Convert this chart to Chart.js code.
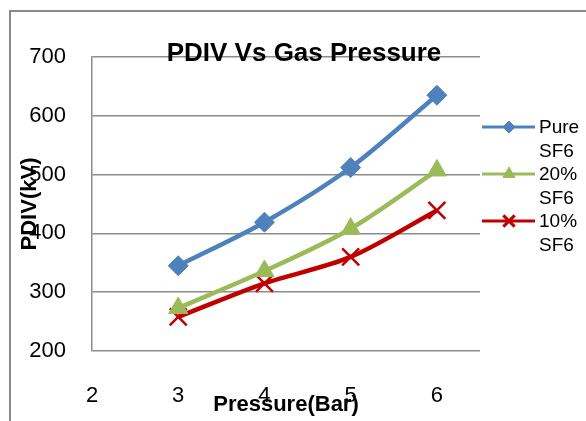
<!DOCTYPE html>
<html lang="en">
<head>
<meta charset="utf-8">
<title>PDIV Vs Gas Pressure</title>
<script src="https://cdn.jsdelivr.net/npm/chart.js@4/dist/chart.umd.min.js"></script>
<style>
  html, body { margin: 0; padding: 0; background: #fff; }
  #holder { width: 586px; height: 421px; }
</style>
</head>
<body>
<div id="holder"><canvas id="chart"></canvas></div>
<script>
// pressure in bar
const pressure = [3, 4, 5, 6];
const pureSF6 = [345, 419, 512, 635];
const sf6_20 = [273, 336, 408, 507];
const sf6_10 = [258, 315, 360, 439];
const seriesNames = [['Pure', 'SF6'], ['20%', 'SF6'], ['10%', 'SF6']];
const yTicks = [200, 300, 400, 500, 600, 700];
const xTicks = [2, 3, 4, 5, 6];

const gridGray = '#8c8c8c';
const FONT = "'Liberation Sans', Arial, sans-serif";

function pts(ys) {
  return pressure.map((x, i) => ({ x: x, y: ys[i] }));
}

// frame round the whole chart (left and top edges are the visible ones)
const frame = {
  id: 'frame',
  beforeDraw(chart) {
    const ctx = chart.ctx;
    ctx.save();
    ctx.strokeStyle = '#8a8a8a';
    ctx.lineWidth = 2;
    ctx.strokeRect(10, 11, chart.width + 40, chart.height + 40);
    ctx.restore();
  }
};

// title sits a little right of centre and over the top gridline
const chartTitle = {
  id: 'chartTitle',
  afterDraw(chart) {
    const ctx = chart.ctx;
    ctx.save();
    ctx.font = 'bold 26px ' + FONT;
    ctx.fillStyle = '#000';
    ctx.textAlign = 'center';
    ctx.textBaseline = 'alphabetic';
    ctx.fillText('PDIV Vs Gas Pressure', 304, 61);
    ctx.restore();
  }
};

// legend with wrapped labels, like the spreadsheet one
const sideLegend = {
  id: 'sideLegend',
  afterDraw(chart) {
    const ctx = chart.ctx;
    const x0 = chart.chartArea.right + 2;
    let y = 127;
    ctx.save();
    chart.data.datasets.forEach((ds, i) => {
      ctx.strokeStyle = ds.borderColor;
      ctx.lineWidth = 3;
      ctx.beginPath();
      ctx.moveTo(x0, y);
      ctx.lineTo(x0 + 53, y);
      ctx.stroke();
      const opts = {
        pointStyle: ds.pointStyle,
        radius: ds.legendRadius,
        rotation: 0,
        borderWidth: ds.pointStyle === 'crossRot' ? 3 : 1
      };
      ctx.fillStyle = ds.pointBackgroundColor;
      ctx.strokeStyle = ds.pointBorderColor;
      ctx.lineWidth = opts.borderWidth;
      Chart.helpers.drawPoint(ctx, opts, x0 + 27, y);
      ctx.fillStyle = '#000';
      ctx.font = '19px ' + FONT;
      ctx.textAlign = 'left';
      ctx.textBaseline = 'middle';
      seriesNames[i].forEach((t, k) => ctx.fillText(t, x0 + 57, y + 1 + k * 24));
      y += 47;
    });
    ctx.restore();
  }
};

const datasets = [
  {
    label: seriesNames[0].join(' '),
    data: pts(pureSF6),
    borderColor: '#4f81bd',
    pointBackgroundColor: '#4f81bd',
    pointBorderColor: '#4f81bd',
    pointStyle: 'rectRot',
    pointRadius: 10,
    legendRadius: 6
  },
  {
    label: seriesNames[1].join(' '),
    data: pts(sf6_20),
    borderColor: '#9bbb59',
    pointBackgroundColor: '#9bbb59',
    pointBorderColor: '#9bbb59',
    pointStyle: 'triangle',
    pointRadius: 11,
    legendRadius: 7
  },
  {
    label: seriesNames[2].join(' '),
    data: pts(sf6_10),
    borderColor: '#c00000',
    pointBackgroundColor: '#c00000',
    pointBorderColor: '#c00000',
    pointStyle: 'crossRot',
    pointRadius: 12,
    pointBorderWidth: 2.5,
    legendRadius: 8
  }
];

new Chart(document.getElementById('chart'), {
  type: 'line',
  data: { datasets: datasets },
  plugins: [frame, chartTitle, sideLegend],
  options: {
    responsive: true,
    maintainAspectRatio: false,
    animation: false,
    layout: { padding: { left: 10, right: 106, top: 57, bottom: 0 } },
    elements: {
      line: { borderWidth: 4.5, tension: 0.3, fill: false },
      point: { borderWidth: 1 }
    },
    plugins: {
      legend: { display: false },
      title: { display: false },
      tooltip: { enabled: false }
    },
    scales: {
      x: {
        type: 'linear',
        min: 2,
        max: 6.5,
        afterBuildTicks(scale) {
          scale.ticks = xTicks.map(v => ({ value: v }));
        },
        afterFit(scale) { scale.height = 70; },
        grid: { display: false },
        border: { display: false },
        ticks: {
          padding: 24,
          color: '#000',
          font: { family: FONT, size: 22 }
        },
        title: {
          display: true,
          text: 'Pressure(Bar)',
          color: '#000',
          font: { family: FONT, size: 22, weight: 'bold' },
          padding: { top: 0, bottom: 3 }
        }
      },
      y: {
        min: 200,
        max: 700,
        afterBuildTicks(scale) {
          scale.ticks = yTicks.map(v => ({ value: v }));
        },
        afterFit(scale) { scale.width = 82; },
        grid: { color: gridGray, lineWidth: 1.5, drawTicks: false },
        border: { display: true, color: gridGray, width: 1.5 },
        ticks: {
          padding: 26,
          color: '#000',
          font: { family: FONT, size: 22 }
        },
        title: {
          display: true,
          text: 'PDIV(kV)',
          color: '#000',
          font: { family: FONT, size: 22, weight: 'bold' },
          padding: { top: 7, bottom: 0 }
        }
      }
    }
  }
});
</script>
</body>
</html>
